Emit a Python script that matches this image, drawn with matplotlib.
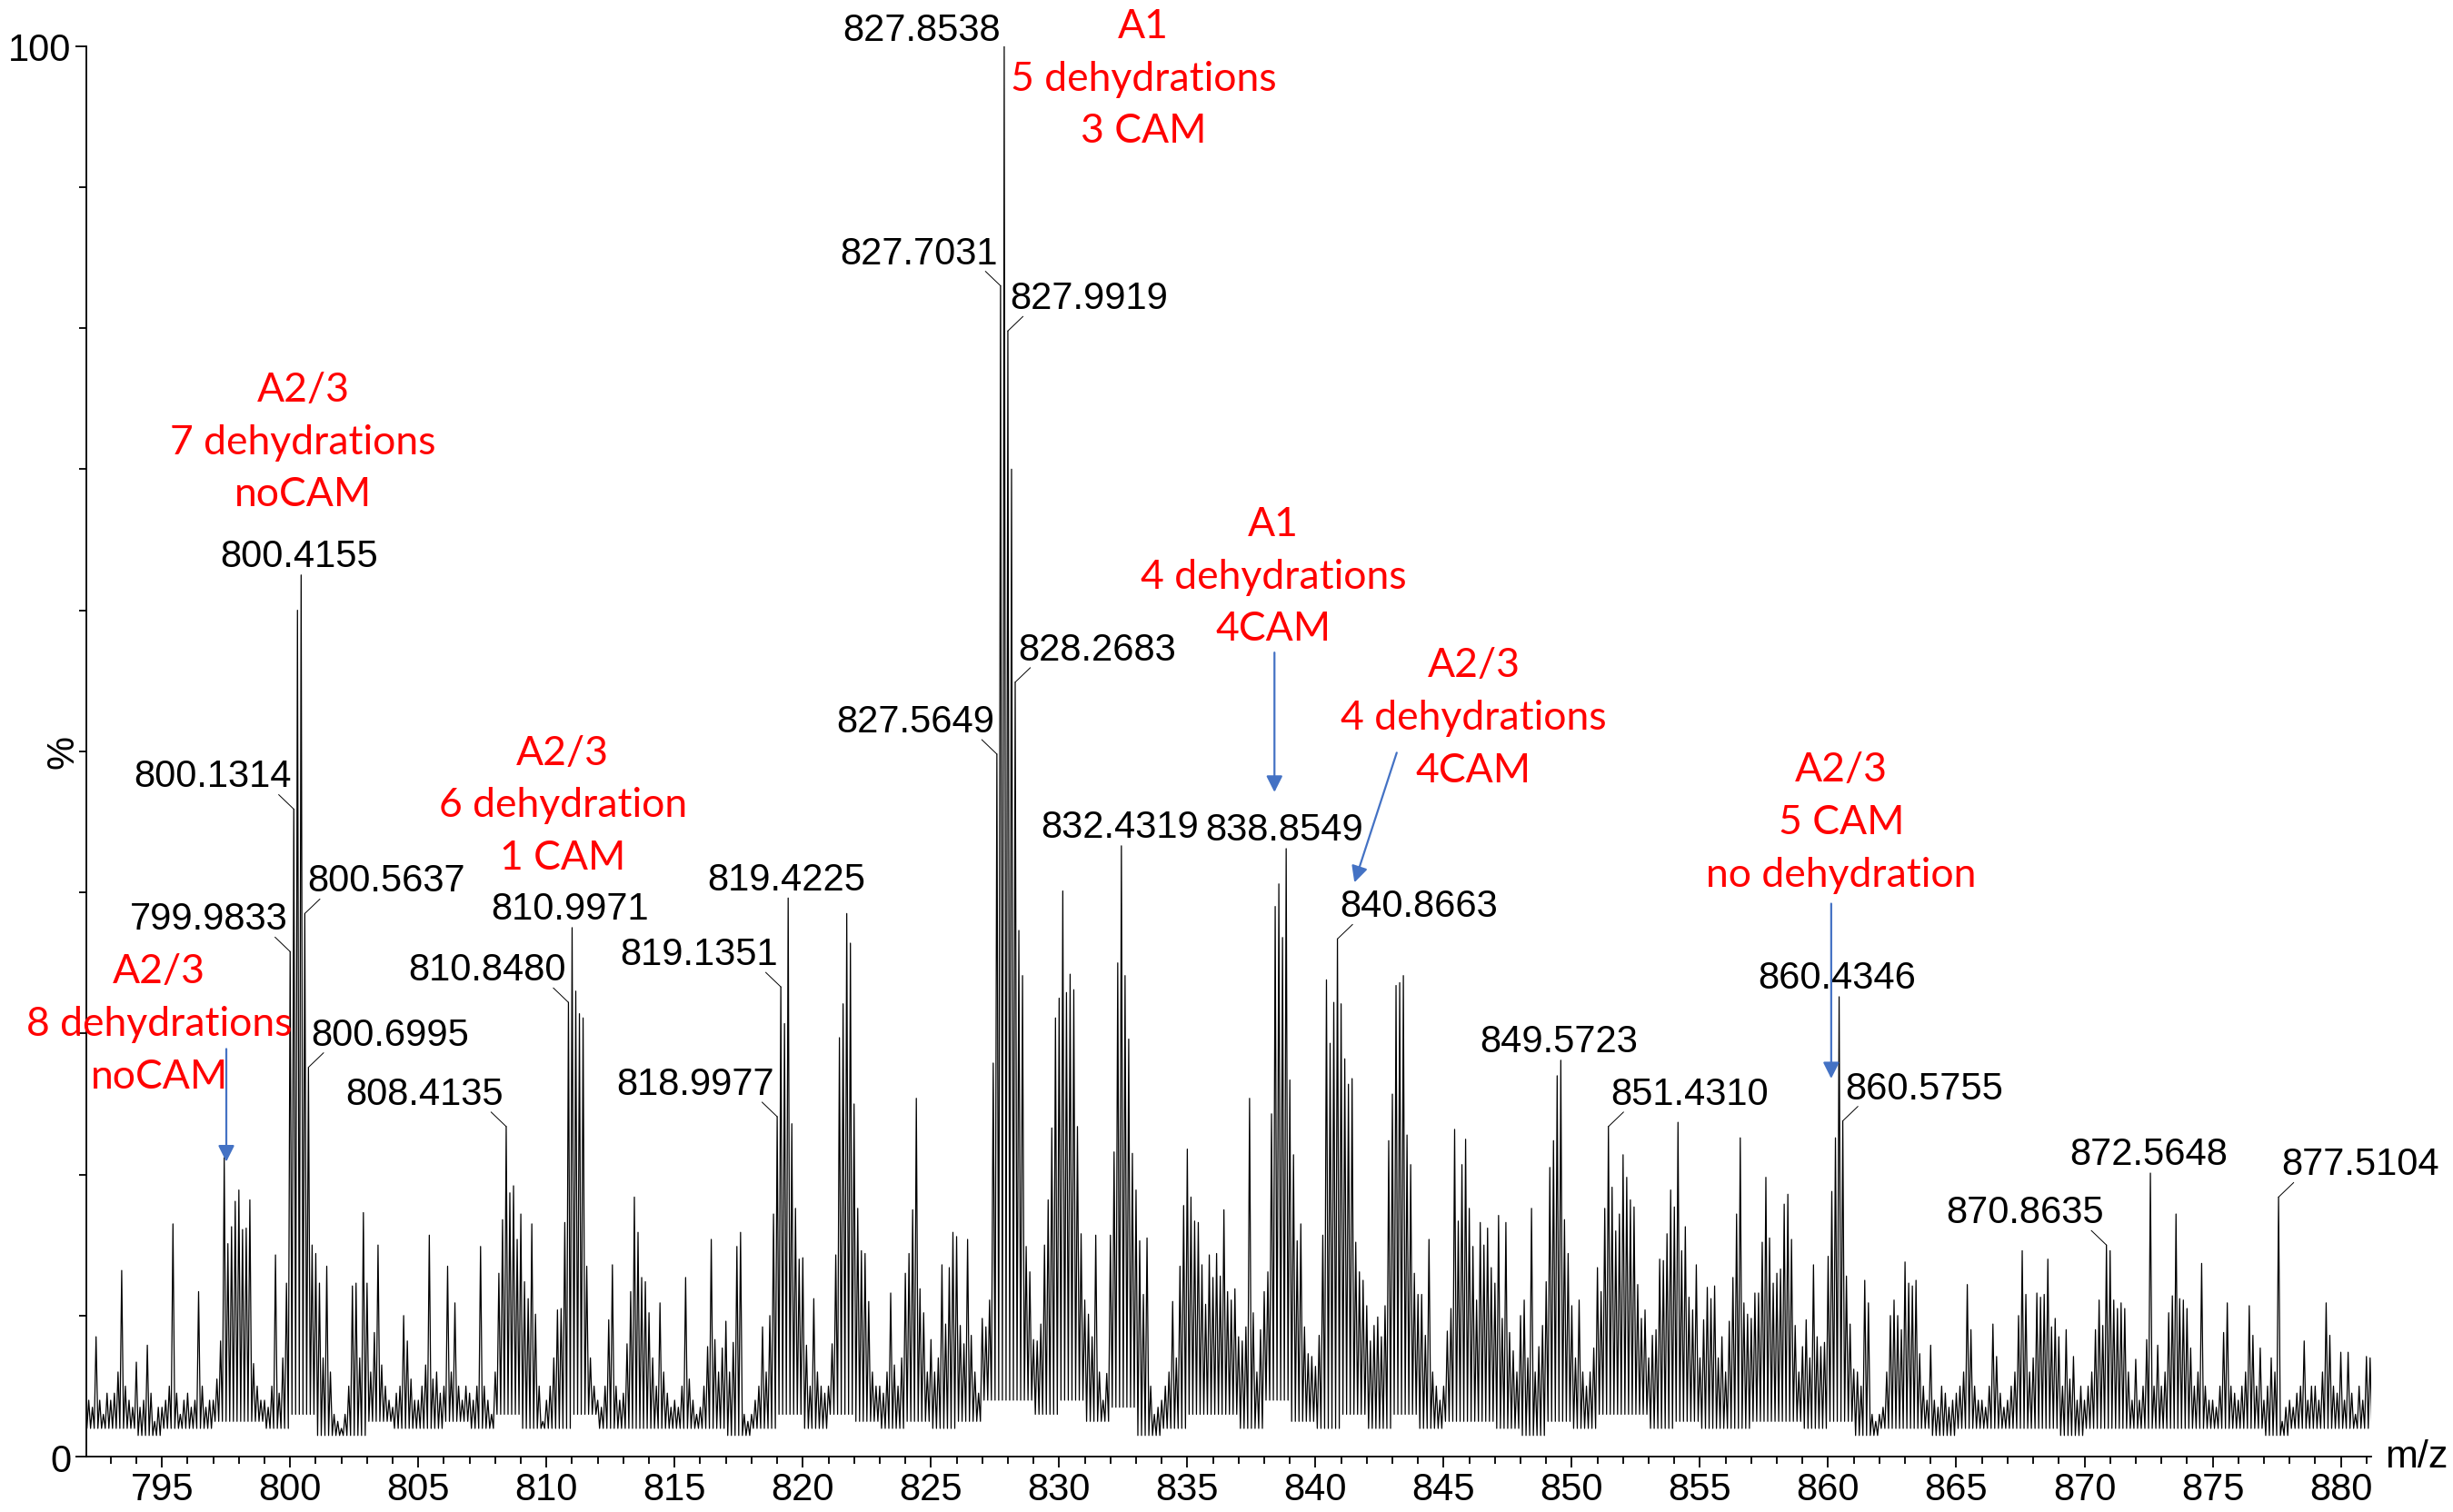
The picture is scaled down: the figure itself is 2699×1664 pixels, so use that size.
import matplotlib

matplotlib.use("Agg")
import matplotlib.pyplot as plt  # noqa: E402
import numpy as np  # noqa: E402

# Peak intensities (%) on the z=7 isotope grid: one row per nominal m/z,
# seven points per row at m + k/7 (k = 0..6).
mz_first = 792
int_792_799 = [
    [3, 4, 3.5, 8.5, 4, 3, 4.5],
    [4, 4.5, 6, 13.2, 5, 4, 3.5],
    [6.7, 3.5, 4, 7.9, 4.5, 2.5, 3.5],
    [3.5, 4, 5, 16.5, 4.5, 3, 4],
    [4.5, 3.5, 4, 11.7, 5, 3.5, 4],
    [4, 5.5, 8.2, 21.2, 15.1, 16.3, 18.1],
    [18.9, 16.1, 16.2, 18.2, 6.6, 5, 4],
    [4, 3.5, 5, 14.3, 4.5, 7, 12.3],
]
int_800_809 = [
    [35.8, 45.9, 60, 62.5, 38.5, 27.6, 15],
    [14.4, 12.3, 7, 13.5, 6, 3, 2.5],
    [2, 3, 5, 12.1, 12.3, 7, 17.3],
    [12.3, 6, 8.8, 15, 6.5, 5, 4],
    [3.5, 4.5, 5, 10, 8.2, 5.5, 4],
    [4, 5, 6.5, 15.7, 5.5, 6, 4.5],
    [5, 13.5, 6, 10.9, 5, 4, 5],
    [4.5, 4, 5, 14.9, 5, 4, 3],
    [6, 13, 16.8, 23.4, 18.7, 19.2, 15.4],
    [17.2, 12.4, 11.2, 16.5, 10.1, 5, 2.5],
]
int_810_819 = [
    [4, 5, 7, 10.4, 10.5, 16.6, 32.2],
    [37.5, 33, 31.4, 31.1, 13.5, 7, 5],
    [4, 3.5, 5, 9.7, 13.6, 5, 4],
    [4.5, 8, 11.7, 18.4, 15.9, 12.7, 12.4],
    [10.2, 7, 5, 10.9, 6, 4.5, 3.5],
    [4, 3.5, 5, 12.7, 5.5, 4, 3],
    [3.5, 5, 7.8, 15.4, 8.3, 6, 7.7],
    [9.6, 6, 8.1, 14.9, 15.9, 3, 2.5],
    [3, 4, 5, 9.2, 6, 10, 17.2],
    [24.1, 33.3, 30.7, 39.6, 23.6, 17.6, 14],
]
int_820_829 = [
    [14.1, 7.9, 5, 11.2, 6, 5, 4.5],
    [5, 8, 14.3, 29.7, 32.1, 38.5, 36.4],
    [25, 17.6, 14.6, 14.4, 11, 6, 5],
    [5, 4.5, 6, 11.6, 6.5, 5, 7],
    [13, 14.4, 17.5, 25.4, 11.9, 10.2, 6],
    [8.3, 6, 7, 13.6, 9.4, 13.4, 15.9],
    [15.6, 9.3, 8, 15.4, 8.6, 6, 4.5],
    [9.8, 9.2, 11.1, 27.9, 49.8, 83, 100],
    [79.8, 70, 54.9, 37.3, 34.1, 14.9, 13.1],
    [8.3, 8.2, 9.4, 15, 18.2, 23.3, 31.1],
]
int_830_839 = [
    [32.5, 40.1, 32.9, 34.2, 33.1, 23.4, 15.8],
    [11.1, 10.1, 8.5, 15.7, 6, 4, 5.9],
    [15.7, 21.6, 35, 43.3, 34.1, 29.6, 21.5],
    [18.9, 15.3, 11.5, 15.5, 5, 3, 3.5],
    [4, 5, 6, 11, 7, 13.5, 17.8],
    [21.8, 18.4, 16.7, 16.6, 13.6, 10.8, 14.3],
    [12.7, 14.4, 12.8, 17.5, 11.7, 11.1, 11.9],
    [8.5, 8.2, 9.2, 25.4, 10.2, 6, 9],
    [11.7, 13.1, 24.3, 39, 40.6, 36.8, 43.1],
    [26.7, 21.4, 15.3, 16.5, 9.2, 7.3, 7.1],
]
int_840_849 = [
    [6.4, 8.6, 15.7, 33.8, 29.3, 32.2, 36.7],
    [32.1, 28.2, 26.4, 26.8, 15.2, 13.1, 12.5],
    [10.7, 8.2, 9.3, 9.9, 8.5, 10.7, 22.4],
    [25.7, 33.4, 33.6, 34.1, 22.8, 20.7, 13],
    [11.5, 11.5, 8.6, 15.4, 6, 5, 4],
    [5, 8.9, 10.5, 23.2, 16.7, 20.7, 22.5],
    [17.6, 14.9, 11.1, 16.6, 15, 16.2, 13.4],
    [12.3, 17.1, 9.8, 16.6, 8.8, 7.5, 6],
    [10, 11.1, 7, 17.6, 6, 7.8, 9.3],
    [12.4, 20.5, 22.4, 27, 28.1, 16.8, 14.4],
]
int_850_859 = [
    [10.7, 7, 11.1, 6, 5, 6, 7.7],
    [13.4, 11.7, 17.6, 23.4, 19.1, 16, 17.2],
    [21.4, 19.8, 18.2, 17.7, 12.2, 9.8, 10.4],
    [7, 8.6, 9, 14, 13.9, 15.8, 18.9],
    [17.7, 23.7, 14.6, 16.3, 11.3, 10.4, 13.6],
    [7, 9.7, 12, 11.2, 12.1, 7, 8.5],
    [6, 9.6, 12.7, 17.2, 22.6, 10.9, 10.1],
    [9.8, 11.6, 11.6, 15.2, 19.8, 15.5, 12.3],
    [13, 13.3, 17.9, 18.6, 15.4, 9.3, 6],
    [7.8, 9.7, 7, 13.6, 8.5, 7.8, 8.1],
]
int_860_869 = [
    [14.2, 18.8, 22.6, 32.6, 23.8, 12.8, 9.4],
    [6.2, 6, 5, 12.5, 10.9, 3, 2.5],
    [3, 3.5, 6, 10, 11.1, 10, 9],
    [13.8, 12.3, 12.1, 12.5, 7.3, 5, 4],
    [7.9, 4, 3.5, 5, 4.5, 3.5, 4],
    [4.5, 5, 6, 12.2, 9, 5, 4],
    [4, 3.5, 5, 9.4, 7.1, 4.5, 3.5],
    [4, 5, 6, 10, 14.6, 11.5, 6],
    [7, 11.6, 11.3, 11.5, 14, 9.2, 9.8],
    [8.5, 5, 9, 5.5, 7.1, 4, 5],
]
int_870_881 = [
    [4, 5, 6, 9, 11.1, 9.3, 15],
    [14.6, 11.1, 10.5, 10.9, 10.5, 6, 4],
    [6.9, 4, 5, 8.3, 20.1, 5, 7.9],
    [5, 6, 10.2, 11.4, 17.2, 11.2, 11.1],
    [10.5, 7.7, 5, 6, 13.7, 5, 4],
    [4, 3.5, 5, 8.8, 10.9, 5, 4.5],
    [4, 5, 6, 10.7, 8.6, 5, 7.7],
    [4, 5, 7, 6, 18.4, 2.5, 3.5],
    [4, 3.5, 4.5, 5, 8.2, 4, 5],
    [5, 4, 6, 10.9, 8.6, 5, 4.5],
    [7.4, 4, 7.4, 4.5, 3, 5, 4],
    [7.1, 7],
]
# trough level between neighbouring peaks, one value per nominal m/z (792..881)
valley_792_881 = [
    2, 2, 1.5, 2, 2, 2.5, 2.5, 2,
    3, 1.5, 1.5, 2.5, 2, 2, 2.5, 2, 3, 2,
    2, 3, 2, 2, 2, 2, 2, 1.5, 2, 3,
    2, 3, 2.5, 2, 2.5, 2, 2.5, 4, 4, 3,
    4, 2.5, 3.5, 1.5, 2, 3, 3, 2, 4, 2.5,
    2, 3, 2, 3, 2, 2.5, 2.5, 2, 1.5, 2.5,
    2, 3, 3, 2, 2.5, 2, 2, 2.5, 2.5, 2,
    2.5, 1.5, 2, 2, 1.5, 2, 2, 2, 2, 1.5,
    2, 2, 2, 2, 2, 2, 2, 1.5, 2, 2, 2, 2,
]

# labelled centroids and where the label sits relative to the peak
peak_labels = ["827.8538", "827.7031", "827.9919", "828.2683", "827.5649",
               "800.4155", "800.1314", "799.9833", "800.5637", "800.6995",
               "832.4319", "838.8549", "840.8663", "819.4225", "819.1351",
               "818.9977", "810.9971", "810.8480", "808.4135", "849.5723",
               "851.4310", "860.4346", "860.5755", "870.8635", "872.5648",
               "877.5104"]
label_side = ["top", "l", "r", "r", "l",
              "c", "l", "l", "r", "r",
              "c", "c", "r", "c", "l",
              "l", "c", "l", "l", "c",
              "r", "c", "r", "l", "c",
              "r"]

notes = [("A1", "5 dehydrations", "3 CAM"),
         ("A2/3", "7 dehydrations", "noCAM"),
         ("A2/3", "8 dehydrations", "noCAM"),
         ("A2/3", "6 dehydration", "1 CAM"),
         ("A1", "4 dehydrations", "4CAM"),
         ("A2/3", "4 dehydrations", "4CAM"),
         ("A2/3", "5 CAM", "no dehydration")]
note_pos = [(833.29, 97.7), (800.51, 71.95), (794.89, 30.7), (810.64, 46.2),
            (838.35, 62.4), (846.17, 52.4), (860.51, 45.0)]
arrows = [((797.51, 28.9), (797.51, 20.9)),
          ((838.4, 57.0), (838.4, 47.1)),
          ((843.17, 49.9), (841.52, 40.7)),
          ((860.12, 39.2), (860.12, 26.8))]

# ---- build the profile trace: peak, trough, peak, trough ...
rows = (int_792_799 + int_800_809 + int_810_819 + int_820_829 + int_830_839
        + int_840_849 + int_850_859 + int_860_869 + int_870_881)
peak_mz, peak_int, trace_x, trace_y = [], [], [], []
for i, row in enumerate(rows):
    for k, v in enumerate(row):
        x = mz_first + i + k / 7
        peak_mz.append(x)
        peak_int.append(v)
        trace_x += [x, x + 1 / 14]
        trace_y += [v, valley_792_881[i]]
peak_mz = np.array(peak_mz)
peak_int = np.array(peak_int)

LABEL_FONT = "Liberation Sans"
NOTE_FONT = "Lato"
BLUE = "#4472C4"

fig = plt.figure(figsize=(26.99, 16.65), dpi=100)
ax = fig.add_axes([0.0351, 0.0366, 0.9317, 0.9324])
ax.plot(trace_x, trace_y, color="black", lw=0.9)

ax.set_xlim(792.04, 881.2)
ax.set_ylim(0, 100)
for s in ("top", "right"):
    ax.spines[s].set_visible(False)
for s in ("left", "bottom"):
    ax.spines[s].set_linewidth(1.3)

ax.set_xticks(np.arange(795, 881, 5))
ax.set_xticks(np.arange(793, 882, 1), minor=True)
ax.set_yticks([0, 100])
ax.set_yticks(np.arange(10, 100, 10), minor=True)
ax.tick_params(which="major", length=8.6, width=1.3, labelsize=30, pad=3)
ax.tick_params(which="minor", length=5.5, width=1.3)
for t in ax.get_xticklabels() + ax.get_yticklabels():
    t.set_fontfamily(LABEL_FONT)

ax.text(1.006, 0, "m/z", transform=ax.transAxes, ha="left", va="center",
        fontsize=31, family=LABEL_FONT)
ax.text(-0.0102, 0.5, "%", transform=ax.transAxes, ha="center", va="center",
        rotation=90, fontsize=30, family=LABEL_FONT)

# ---- peak labels (MassLynx style, with short leader lines where offset)
for text, side in zip(peak_labels, label_side):
    i = int(np.argmin(np.abs(peak_mz - float(text))))
    xy = (peak_mz[i], peak_int[i])
    kw = dict(textcoords="offset points", fontsize=30, family=LABEL_FONT,
              va="baseline", annotation_clip=False)
    if side == "c":
        ax.annotate(text, xy, xytext=(-1.5, 7), ha="center", **kw)
    elif side == "top":
        ax.annotate(text, xy, xytext=(-3, 5), ha="right", **kw)
    else:
        sgn = -1 if side == "l" else 1
        ax.annotate("", xy, xytext=(12 * sgn, 11.5), textcoords="offset points",
                    arrowprops=dict(arrowstyle="-", lw=0.7, color="black",
                                    shrinkA=0, shrinkB=0))
        ax.annotate(text, xy, xytext=(2 * sgn, 18),
                    ha="right" if side == "l" else "left", **kw)

# ---- red assignments (one text per line) and blue arrows
LINE_STEP = 41.5  # points between the three lines of an assignment
for lines, xy in zip(notes, note_pos):
    for j, line in enumerate(lines):
        ax.annotate(line, xy, xytext=(0, (1 - j) * LINE_STEP),
                    textcoords="offset points", color="red", fontsize=32,
                    family=NOTE_FONT, ha="center", va="center",
                    annotation_clip=False)
for tail, tip in arrows:
    ax.annotate("", tip, xytext=tail,
                arrowprops=dict(arrowstyle="-|>,head_length=0.4,head_width=0.2",
                                mutation_scale=27, lw=1.6, color=BLUE,
                                shrinkA=0, shrinkB=0))

fig.savefig("out.png", dpi=100)
